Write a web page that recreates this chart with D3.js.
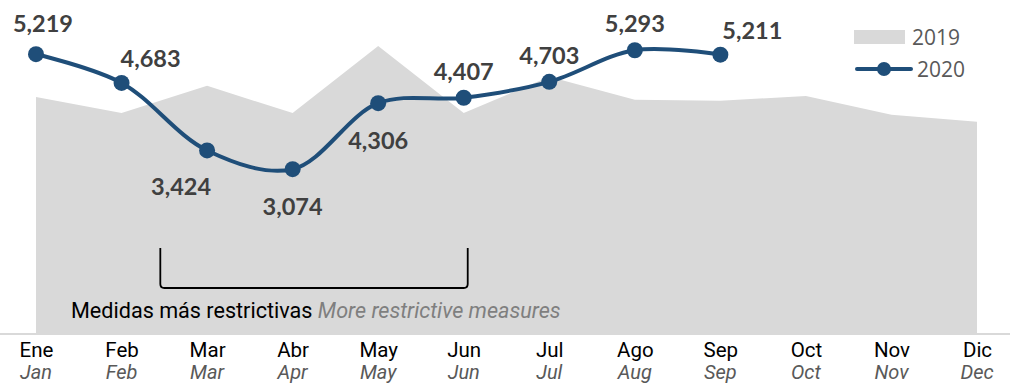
<!DOCTYPE html>
<html>
<head>
<meta charset="utf-8">
<script src="https://cdn.jsdelivr.net/npm/d3@7"></script>
<style>
body { margin: 0; background: #fff; }
svg { display: block; }
</style>
</head>
<body>
<svg></svg>
<script>
var monthsEs = ["Ene","Feb","Mar","Abr","May","Jun","Jul","Ago","Sep","Oct","Nov","Dic"];
var monthsEn = ["Jan","Feb","Mar","Apr","May","Jun","Jul","Aug","Sep","Oct","Nov","Dec"];
var values2019 = [4420, 4120, 4630, 4120, 5370, 4120, 4800, 4370, 4350, 4440, 4090, 3960];
var values2020 = [5219, 4683, 3424, 3074, 4306, 4407, 4703, 5293, 5211];
// where each 2020 label sits relative to its point
var labelSide = ["above", "right", "belowLeft", "below", "below", "above", "above", "above", "aboveRight"];

var width = 1010, height = 385;

var svg = d3.select("svg")
    .attr("width", width)
    .attr("height", height);

var x = d3.scalePoint()
    .domain(monthsEs)
    .range([36, 977]);

var y = d3.scaleLinear()
    .domain([0, 6230])
    .range([334, 0]);

// 2019 area
var area = d3.area()
    .x(function(d, i) { return x(monthsEs[i]); })
    .y0(y(0))
    .y1(function(d) { return y(d); });

svg.append("path")
    .datum(values2019)
    .attr("d", area)
    .attr("fill", "#d9d9d9");

// baseline
svg.append("line")
    .attr("x1", 0).attr("x2", width)
    .attr("y1", y(0)).attr("y2", y(0))
    .attr("stroke", "#d9d9d9")
    .attr("stroke-width", 2);

// x axis labels
var xAxis = svg.append("g")
    .attr("transform", "translate(0," + y(0) + ")")
    .call(d3.axisBottom(x).tickSize(0).tickPadding(8));
xAxis.select(".domain").remove();
xAxis.selectAll("text")
    .attr("font-family", "Roboto, sans-serif")
    .attr("font-size", 20.5)
    .attr("fill", "#000");

svg.append("g").selectAll("text")
    .data(monthsEn)
    .enter().append("text")
    .attr("x", function(d, i) { return x(monthsEs[i]); })
    .attr("y", 379)
    .attr("text-anchor", "middle")
    .attr("font-family", "Roboto, sans-serif")
    .attr("font-style", "italic")
    .attr("font-size", 20)
    .attr("fill", "#595959")
    .text(function(d) { return d; });

// bracket
var bx0 = (x("Feb") + x("Mar")) / 2 - 4, bx1 = x("Jun") + 4;
svg.append("path")
    .attr("d", "M" + bx0 + ",248 L" + bx0 + ",284 Q" + bx0 + ",288 " + (bx0 + 4) + ",288 L" + (bx1 - 4) + ",288 Q" + bx1 + ",288 " + bx1 + ",284 L" + bx1 + ",248")
    .attr("fill", "none")
    .attr("stroke", "#000")
    .attr("stroke-width", 1.8);

var note = svg.append("text")
    .attr("x", 71)
    .attr("y", 318)
    .attr("font-family", "Roboto, sans-serif")
    .attr("font-size", 21.6);
note.append("tspan").attr("fill", "#000").text("Medidas más restrictivas ");
note.append("tspan").attr("fill", "#7f7f7f").attr("font-style", "italic").text("More restrictive measures");

// 2020 line
var blue = "#1f4e79";
var line = d3.line()
    .x(function(d, i) { return x(monthsEs[i]); })
    .y(function(d) { return y(d); })
    .curve(d3.curveCatmullRom.alpha(0.5));

svg.append("path")
    .datum(values2020)
    .attr("d", line)
    .attr("fill", "none")
    .attr("stroke", blue)
    .attr("stroke-width", 4);

svg.append("g").selectAll("circle")
    .data(values2020)
    .enter().append("circle")
    .attr("cx", function(d, i) { return x(monthsEs[i]); })
    .attr("cy", function(d) { return y(d); })
    .attr("r", 8)
    .attr("fill", blue);

var offsets = {
  above: [0, -18],
  right: [29, -16],
  belowLeft: [-26, 45],
  below: [0, 46],
  aboveRight: [32, -16]
};

svg.append("g").selectAll("text")
    .data(values2020)
    .enter().append("text")
    .attr("x", function(d, i) { return x(monthsEs[i]) + offsets[labelSide[i]][0] + (i === 0 ? 7 : 0); })
    .attr("y", function(d, i) { return y(d) + offsets[labelSide[i]][1] - (i === 0 ? 4 : 0); })
    .attr("text-anchor", "middle")
    .attr("font-family", "Lato, sans-serif")
    .attr("font-weight", "bold")
    .attr("font-size", 23.5)
    .attr("fill", "#404040")
    .text(function(d) { return d3.format(",")(d); });

// legend
var legend = svg.append("g").attr("font-family", "'Open Sans', sans-serif").attr("font-size", 21).attr("fill", "#595959");
legend.append("rect").attr("x", 854).attr("y", 30).attr("width", 51).attr("height", 14).attr("fill", "#d9d9d9");
legend.append("text").attr("x", 912).attr("y", 45).text("2019");
legend.append("line").attr("x1", 857).attr("x2", 911).attr("y1", 69).attr("y2", 69)
    .attr("stroke", blue).attr("stroke-width", 4).attr("stroke-linecap", "round");
legend.append("circle").attr("cx", 884).attr("cy", 69).attr("r", 7).attr("fill", blue);
legend.append("text").attr("x", 917).attr("y", 77).text("2020");
</script>
</body>
</html>
